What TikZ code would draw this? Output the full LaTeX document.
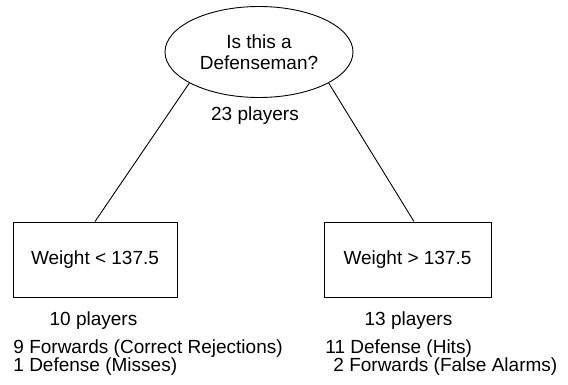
\documentclass[tikz,border=0pt]{standalone}
\usepackage{fontspec}
\setmainfont{Liberation Sans}
\usetikzlibrary{shapes.geometric}
\begin{document}
\begin{tikzpicture}[x=1pt,y=-1pt, line width=0.9pt,
  every node/.style={font=\fontsize{19}{21}\selectfont, inner sep=0pt},
  box/.style={draw, rectangle, minimum width=164pt, minimum height=75pt},
  lbl/.style={anchor=base west},
  cnt/.style={anchor=base}]
\useasboundingbox (0,0) rectangle (568,385);
\node[draw, ellipse, minimum width=188pt, minimum height=91pt, align=center] (q) at (259,52) {Is this a\\Defenseman?};
\node[cnt] (n23) at (255,121) {23 players};
\node[box] (L) at (95,259.5) {Weight < 137.5};
\node[box, minimum width=167pt] (R) at (407.5,259.5) {Weight > 137.5};
\coordinate (Rtop) at ([xshift=6.5pt]R.north);
\draw (q.-156) -- (L.north);
\draw (q.-24) -- (Rtop);
\node[cnt] (n10) at (93.5,325) {10 players};
\node[cnt] (n13) at (408.5,325) {13 players};
\node[lbl] (l1) at (13,353) {9 Forwards (Correct Rejections)};
\node[lbl] (l2) at (13,371) {1 Defense (Misses)};
\node[lbl] (r1) at (325,353) {11 Defense (Hits)};
\node[lbl] (r2) at (333,371) {2 Forwards (False Alarms)};
\end{tikzpicture}
\end{document}
